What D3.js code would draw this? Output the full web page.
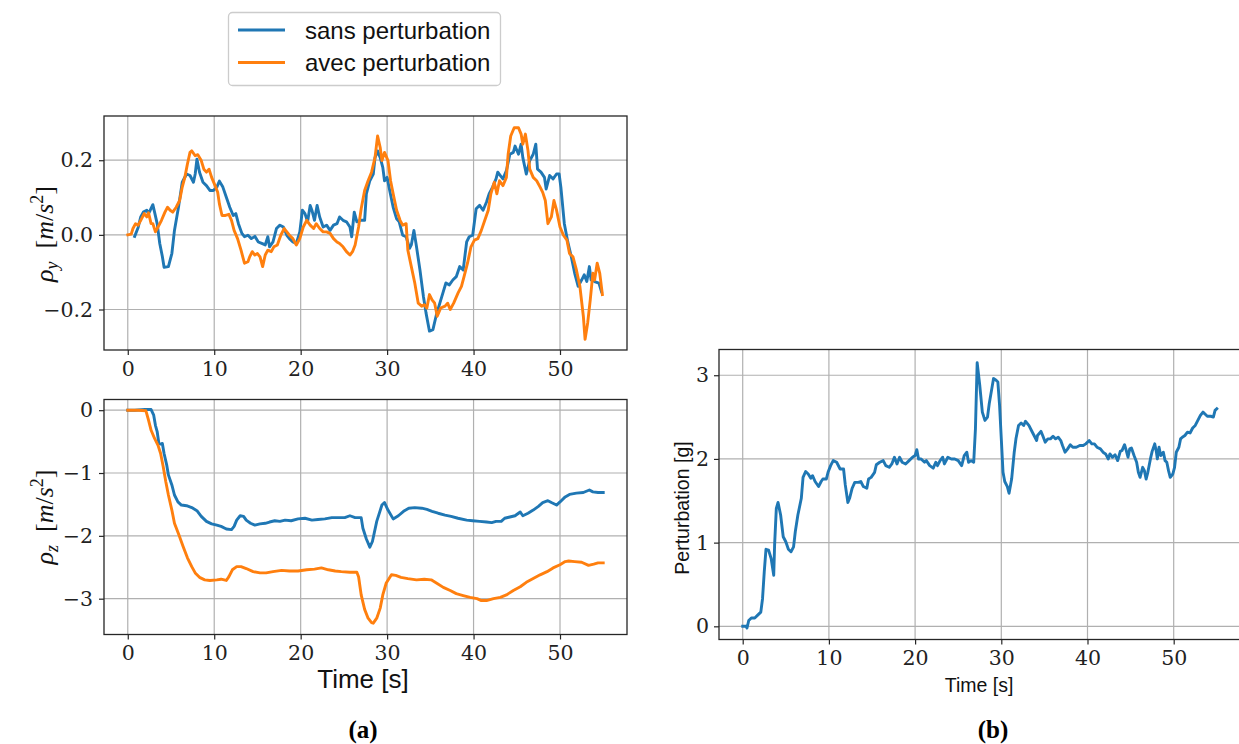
<!DOCTYPE html>
<html>
<head>
<meta charset="utf-8">
<script src="https://cdn.jsdelivr.net/npm/d3@7"></script>
<style>
  html, body { margin: 0; padding: 0; background: #fff; }
  svg { display: block; }
</style>
</head>
<body>
<svg id="chart" width="1239" height="744"></svg>
<script>
// ---------------- DATA ----------------
const seriesNames = ["sans perturbation", "avec perturbation"];
const seriesColors = ["#1f77b4", "#ff7f0e"];

const xTicks = [0, 10, 20, 30, 40, 50];
const rhoYTicks = [-0.2, 0.0, 0.2];
const rhoZTicks = [-3, -2, -1, 0];
const pertTicks = [0, 1, 2, 3];

// rho_y, sans perturbation  [t (s), value]
const rhoY_sans = [[0.8,-0.004],[1.2,0.02],[1.5,0.048],[1.8,0.061],[2.2,0.066],[2.4,0.057],[2.6,0.066],[2.9,0.081],[3.1,0.061],[3.4,0.03],[3.7,-0.023],[4.0,-0.058],[4.2,-0.087],[4.7,-0.085],[5.1,-0.05],[5.4,0.012],[5.9,0.079],[6.3,0.141],[6.8,0.163],[7.2,0.159],[7.6,0.141],[7.8,0.163],[8.0,0.203],[8.3,0.168],[8.7,0.141],[9.1,0.132],[9.5,0.119],[9.9,0.119],[10.3,0.128],[10.6,0.144],[11.0,0.128],[11.4,0.101],[11.8,0.074],[12.2,0.052],[12.5,0.057],[12.8,0.03],[13.2,0.004],[13.5,-0.005],[13.9,-0.001],[14.3,-0.01],[14.7,-0.004],[15.1,-0.019],[15.5,-0.023],[15.9,-0.027],[16.2,-0.005],[16.4,-0.032],[16.8,-0.019],[17.2,0.017],[17.6,0.026],[18.0,0.021],[18.4,-0.001],[18.7,-0.01],[19.1,-0.019],[19.5,-0.023],[19.9,0.008],[20.2,0.066],[20.5,0.057],[20.8,0.035],[21.1,0.079],[21.3,0.066],[21.6,0.039],[21.9,0.079],[22.2,0.048],[22.6,0.021],[23.0,0.026],[23.4,0.012],[23.8,0.026],[24.2,0.03],[24.5,0.048],[24.9,0.039],[25.3,0.035],[25.7,0.021],[25.9,-0.005],[26.2,0.061],[26.5,0.035],[26.9,0.039],[27.4,0.039],[27.6,0.11],[28.0,0.145],[28.4,0.163],[28.6,0.207],[28.9,0.225],[29.2,0.207],[29.5,0.181],[29.7,0.145],[30.0,0.154],[30.3,0.119],[30.7,0.074],[31.1,0.043],[31.4,0.035],[31.8,-0.001],[32.2,-0.005],[32.6,-0.036],[32.8,-0.027],[33.1,0.012],[33.4,-0.032],[33.8,-0.094],[34.2,-0.165],[34.5,-0.209],[34.9,-0.258],[35.3,-0.254],[35.7,-0.214],[36.1,-0.183],[36.5,-0.152],[36.8,-0.129],[37.2,-0.134],[37.6,-0.121],[38.0,-0.112],[38.4,-0.085],[38.8,-0.094],[39.2,-0.019],[39.5,-0.005],[39.9,-0.001],[40.3,0.07],[40.7,0.079],[41.1,0.066],[41.5,0.088],[41.8,0.11],[42.2,0.128],[42.6,0.15],[42.8,0.168],[43.1,0.159],[43.4,0.15],[43.8,0.172],[44.2,0.216],[44.6,0.221],[44.8,0.238],[45.2,0.216],[45.5,0.243],[45.7,0.207],[46.1,0.163],[46.5,0.199],[46.9,0.216],[47.2,0.243],[47.4,0.176],[47.8,0.168],[48.2,0.154],[48.4,0.123],[48.8,0.159],[49.2,0.15],[49.6,0.163],[49.9,0.163],[50.1,0.128],[50.5,0.03],[50.9,-0.019],[51.3,-0.058],[51.7,-0.103],[52.1,-0.138],[52.5,-0.121],[52.8,-0.107],[53.1,-0.125],[53.4,-0.085],[53.6,-0.121],[54.0,-0.125],[54.5,-0.129],[54.8,-0.152]];

// rho_y, avec perturbation
const rhoY_avec = [[0,0],[0.4,0.002],[0.6,0.017],[0.9,0.03],[1.2,0.026],[1.5,0.039],[1.9,0.057],[2.2,0.048],[2.4,0.059],[2.7,0.03],[2.9,0.03],[3.2,0.008],[3.5,0.021],[3.9,0.039],[4.3,0.061],[4.6,0.074],[4.9,0.066],[5.2,0.061],[5.6,0.074],[6.0,0.092],[6.3,0.128],[6.6,0.154],[6.9,0.19],[7.2,0.221],[7.4,0.225],[7.8,0.212],[8.1,0.215],[8.5,0.199],[8.8,0.176],[9.1,0.168],[9.4,0.176],[9.7,0.154],[10.1,0.132],[10.4,0.114],[10.6,0.083],[10.9,0.052],[11.3,0.052],[11.7,0.055],[12.0,0.039],[12.3,0.012],[12.7,-0.01],[13.1,-0.041],[13.5,-0.076],[13.9,-0.072],[14.1,-0.059],[14.4,-0.045],[14.7,-0.054],[15.0,-0.05],[15.3,-0.059],[15.6,-0.085],[15.9,-0.054],[16.2,-0.041],[16.6,-0.045],[16.9,-0.032],[17.3,-0.027],[17.7,-0.001],[18.1,0.017],[18.4,0.008],[18.7,-0.001],[19.1,-0.01],[19.5,-0.027],[19.9,-0.01],[20.3,0.021],[20.7,0.039],[21.1,0.026],[21.5,0.017],[21.8,0.03],[22.2,0.017],[22.6,0.008],[23.0,0.008],[23.4,0.004],[23.8,-0.01],[24.2,-0.019],[24.5,-0.023],[24.9,-0.032],[25.3,-0.045],[25.7,-0.054],[26.0,-0.045],[26.3,-0.027],[26.7,0.021],[27.0,0.07],[27.4,0.119],[27.8,0.145],[28.2,0.168],[28.6,0.207],[28.9,0.265],[29.2,0.234],[29.4,0.199],[29.7,0.221],[30.1,0.199],[30.4,0.145],[30.7,0.11],[31.1,0.066],[31.5,0.039],[31.8,0.026],[32.2,0.03],[32.4,-0.041],[32.8,-0.085],[33.2,-0.129],[33.6,-0.183],[34.0,-0.191],[34.3,-0.187],[34.6,-0.196],[34.9,-0.16],[35.2,-0.174],[35.5,-0.183],[35.8,-0.218],[36.2,-0.196],[36.7,-0.191],[37.0,-0.183],[37.3,-0.2],[37.7,-0.183],[38.2,-0.156],[38.6,-0.138],[38.9,-0.112],[39.3,-0.076],[39.7,-0.032],[40.1,-0.014],[40.5,-0.01],[40.9,0.012],[41.3,0.039],[41.7,0.066],[42.0,0.11],[42.4,0.141],[42.7,0.11],[43.0,0.145],[43.4,0.132],[43.8,0.154],[44.0,0.216],[44.3,0.265],[44.7,0.287],[45.2,0.287],[45.5,0.27],[45.7,0.243],[46.0,0.27],[46.3,0.225],[46.5,0.176],[46.9,0.154],[47.3,0.145],[47.7,0.128],[48.0,0.114],[48.3,0.092],[48.6,0.03],[49.0,0.048],[49.3,0.092],[49.6,0.066],[50.0,0.021],[50.4,-0.001],[50.8,-0.014],[51.1,-0.05],[51.5,-0.059],[51.9,-0.094],[52.3,-0.138],[52.7,-0.218],[52.9,-0.28],[53.2,-0.236],[53.5,-0.174],[53.8,-0.103],[54.0,-0.121],[54.3,-0.076],[54.6,-0.103],[54.9,-0.16]];

// rho_z, sans perturbation
const rhoZ_sans = [[0,0],[0.8,0],[2.0,0.01],[2.7,0.01],[3.0,-0.08],[3.2,-0.24],[3.4,-0.34],[3.6,-0.53],[3.8,-0.54],[4.0,-0.53],[4.2,-0.69],[4.5,-0.87],[4.7,-1.03],[5.1,-1.19],[5.4,-1.35],[5.8,-1.46],[6.2,-1.51],[6.8,-1.52],[7.4,-1.55],[8.0,-1.6],[8.5,-1.69],[9.1,-1.77],[9.7,-1.81],[10.3,-1.83],[10.8,-1.85],[11.4,-1.89],[12.0,-1.9],[12.3,-1.85],[12.6,-1.75],[13.0,-1.68],[13.4,-1.69],[13.7,-1.75],[14.2,-1.8],[14.7,-1.83],[15.3,-1.81],[15.9,-1.8],[16.4,-1.78],[17.0,-1.76],[17.6,-1.77],[18.2,-1.75],[18.9,-1.76],[19.7,-1.73],[20.5,-1.72],[21.3,-1.75],[22.0,-1.74],[22.8,-1.73],[23.6,-1.71],[24.3,-1.71],[25.1,-1.71],[25.7,-1.68],[26.3,-1.71],[27.0,-1.71],[27.2,-1.88],[27.6,-2.05],[28.0,-2.18],[28.3,-2.09],[28.8,-1.77],[29.4,-1.51],[29.7,-1.47],[30.1,-1.59],[30.7,-1.73],[31.3,-1.68],[31.9,-1.61],[32.5,-1.56],[33.2,-1.55],[34.0,-1.56],[34.6,-1.58],[35.2,-1.61],[35.9,-1.64],[36.7,-1.67],[37.4,-1.69],[38.2,-1.72],[39.2,-1.75],[39.9,-1.76],[40.7,-1.77],[41.5,-1.78],[42.1,-1.79],[42.6,-1.77],[43.2,-1.77],[43.6,-1.72],[44.2,-1.7],[44.8,-1.68],[45.4,-1.62],[45.7,-1.68],[46.3,-1.64],[46.9,-1.59],[47.5,-1.53],[48.0,-1.47],[48.6,-1.44],[49.0,-1.47],[49.6,-1.51],[50.0,-1.46],[50.6,-1.38],[51.1,-1.34],[51.9,-1.32],[52.7,-1.31],[53.4,-1.27],[53.8,-1.3],[54.4,-1.31],[55.0,-1.31]];

// rho_z, avec perturbation
const rhoZ_avec = [[0,0],[1.2,0],[2.1,-0.01],[2.4,-0.16],[2.7,-0.32],[3.1,-0.45],[3.5,-0.56],[3.8,-0.69],[4.1,-0.9],[4.4,-1.14],[4.7,-1.35],[5.1,-1.59],[5.4,-1.8],[5.9,-1.98],[6.4,-2.17],[6.9,-2.35],[7.4,-2.49],[7.8,-2.59],[8.3,-2.66],[8.9,-2.7],[9.5,-2.71],[10.3,-2.7],[10.8,-2.69],[11.4,-2.71],[11.7,-2.65],[12.1,-2.54],[12.6,-2.49],[13.1,-2.49],[13.7,-2.52],[14.5,-2.57],[15.3,-2.59],[16.0,-2.59],[16.8,-2.57],[17.8,-2.55],[18.7,-2.56],[19.7,-2.56],[20.7,-2.54],[21.6,-2.53],[22.4,-2.51],[23.2,-2.54],[24.0,-2.56],[24.7,-2.57],[25.7,-2.58],[26.5,-2.58],[26.7,-2.65],[27.0,-2.94],[27.4,-3.17],[27.8,-3.31],[28.2,-3.38],[28.4,-3.39],[28.8,-3.31],[29.2,-3.15],[29.5,-2.94],[29.9,-2.75],[30.5,-2.62],[31.0,-2.63],[31.6,-2.66],[32.4,-2.68],[33.4,-2.7],[34.3,-2.69],[35.1,-2.7],[35.7,-2.75],[36.5,-2.82],[37.3,-2.87],[38.0,-2.92],[38.8,-2.95],[39.6,-2.98],[40.4,-3.0],[40.9,-3.03],[41.5,-3.03],[42.3,-3.0],[43.1,-2.98],[43.8,-2.94],[44.6,-2.87],[45.4,-2.81],[46.1,-2.74],[46.9,-2.68],[47.7,-2.62],[48.5,-2.57],[49.2,-2.51],[50.0,-2.46],[50.6,-2.41],[51.0,-2.4],[51.7,-2.41],[52.5,-2.42],[53.3,-2.47],[53.9,-2.45],[54.4,-2.43],[55.0,-2.43]];

// Perturbation [g]
const perturbation = [[0,0],[0.4,0],[0.5,-0.02],[0.7,0.07],[1.0,0.1],[1.4,0.1],[1.8,0.14],[2.1,0.17],[2.3,0.33],[2.5,0.65],[2.7,0.92],[3.0,0.91],[3.3,0.81],[3.6,0.61],[3.7,0.97],[3.9,1.41],[4.1,1.48],[4.4,1.33],[4.7,1.07],[5.0,1.01],[5.3,0.92],[5.6,0.89],[5.9,0.95],[6.1,1.13],[6.4,1.33],[6.8,1.53],[7.0,1.78],[7.3,1.85],[7.6,1.82],[7.9,1.77],[8.1,1.8],[8.4,1.73],[8.8,1.67],[9.1,1.73],[9.3,1.76],[9.7,1.76],[9.9,1.84],[10.2,1.92],[10.5,1.98],[10.9,1.96],[11.3,1.88],[11.7,1.88],[11.9,1.69],[12.2,1.48],[12.4,1.53],[12.7,1.65],[13.0,1.72],[13.4,1.72],[13.7,1.73],[14.0,1.67],[14.4,1.65],[14.6,1.76],[14.9,1.78],[15.3,1.84],[15.5,1.93],[15.9,1.96],[16.3,1.98],[16.6,1.92],[17.0,1.9],[17.3,1.94],[17.6,2.02],[17.9,1.94],[18.2,2.02],[18.5,1.96],[18.9,1.94],[19.3,1.98],[19.7,2.02],[20.0,2.04],[20.2,2.11],[20.4,2.0],[20.7,2.0],[21.1,1.96],[21.3,1.98],[21.7,1.92],[22.1,1.89],[22.4,1.96],[22.6,1.92],[22.9,1.98],[23.2,2.02],[23.4,1.94],[23.8,2.02],[24.2,2.0],[24.6,2.0],[25.0,1.98],[25.4,1.92],[25.7,2.04],[26.0,2.08],[26.2,1.96],[26.5,1.98],[26.8,1.96],[27.0,2.36],[27.2,3.15],[27.5,2.88],[27.8,2.56],[28.1,2.46],[28.4,2.5],[28.6,2.66],[28.9,2.84],[29.1,2.96],[29.4,2.94],[29.6,2.92],[29.8,2.64],[30.0,2.24],[30.2,1.84],[30.4,1.73],[30.7,1.67],[30.9,1.59],[31.2,1.76],[31.5,2.08],[31.7,2.24],[32.0,2.4],[32.3,2.43],[32.6,2.4],[32.8,2.45],[33.2,2.4],[33.5,2.34],[33.8,2.28],[34.1,2.22],[34.2,2.28],[34.6,2.33],[34.8,2.28],[35.1,2.2],[35.4,2.24],[35.7,2.24],[36.0,2.27],[36.3,2.24],[36.6,2.26],[36.9,2.22],[37.1,2.16],[37.4,2.08],[37.7,2.12],[38.0,2.17],[38.3,2.14],[38.7,2.14],[39.1,2.16],[39.5,2.16],[39.8,2.18],[40.2,2.22],[40.5,2.18],[40.8,2.18],[41.1,2.14],[41.5,2.12],[41.8,2.08],[42.1,2.06],[42.4,2.0],[42.6,2.06],[42.9,2.02],[43.2,2.05],[43.5,1.98],[43.8,2.09],[44.0,2.1],[44.3,2.17],[44.5,2.1],[44.7,2.02],[44.9,2.12],[45.1,2.13],[45.4,2.04],[45.7,1.96],[45.9,1.84],[46.1,1.78],[46.4,1.9],[46.6,1.86],[46.8,1.76],[47.0,1.84],[47.3,2.0],[47.5,2.09],[47.8,2.18],[48.0,2.08],[48.1,2.0],[48.3,2.14],[48.5,2.04],[48.8,2.08],[49.0,1.98],[49.2,1.96],[49.4,1.86],[49.6,1.78],[49.9,1.82],[50.1,1.9],[50.3,2.08],[50.6,2.14],[50.8,2.24],[51.0,2.26],[51.3,2.28],[51.6,2.32],[51.9,2.31],[52.2,2.37],[52.5,2.4],[52.8,2.46],[53.1,2.52],[53.4,2.56],[53.6,2.54],[53.9,2.51],[54.3,2.51],[54.6,2.5],[54.8,2.58],[55.0,2.6]];

// ---------------- DRAW ----------------
const svg = d3.select("#chart");
const SERIF = "'Liberation Serif', 'Times New Roman', serif";
const TICKFONT = "'DejaVu Serif', serif";
const SANS = "'Liberation Sans', Arial, sans-serif";
const GRID = "#b0b0b0";
const SPINE = "#262626";
const LW = 2.9;

function panel(opts) {
  const x = d3.scaleLinear().domain(opts.xDomain).range([opts.left, opts.right]);
  const y = d3.scaleLinear().domain(opts.yDomain).range([opts.bottom, opts.top]);
  const g = svg.append("g");

  // grid
  g.append("g").selectAll("line").data(xTicks).join("line")
    .attr("x1", d => x(d)).attr("x2", d => x(d))
    .attr("y1", opts.top).attr("y2", opts.bottom)
    .attr("stroke", GRID).attr("stroke-width", 1.2);
  g.append("g").selectAll("line").data(opts.yTicks).join("line")
    .attr("x1", opts.left).attr("x2", opts.right)
    .attr("y1", d => y(d)).attr("y2", d => y(d))
    .attr("stroke", GRID).attr("stroke-width", 1.2);

  // lines
  const line = d3.line().x(d => x(d[0])).y(d => y(d[1]));
  opts.series.forEach((s, i) => {
    g.append("path").datum(s.data)
      .attr("fill", "none")
      .attr("stroke", s.color)
      .attr("stroke-width", LW)
      .attr("stroke-linejoin", "round")
      .attr("stroke-linecap", "square")
      .attr("d", line);
  });

  // axes (ticks + labels)
  const xAxis = d3.axisBottom(x).tickValues(xTicks).tickSize(5).tickPadding(opts.xPad)
    .tickFormat(d => d3.format("d")(d));
  const gx = g.append("g").attr("transform", `translate(0,${opts.bottom})`).call(xAxis);
  const yAxis = d3.axisLeft(y).tickValues(opts.yTicks).tickSize(5).tickPadding(opts.yPad)
    .tickFormat(opts.yFormat);
  const gy = g.append("g").attr("transform", `translate(${opts.left},0)`).call(yAxis);
  [gx, gy].forEach(a => {
    a.select(".domain").remove();
    a.selectAll(".tick line").attr("stroke", SPINE).attr("stroke-width", 1.2);
    a.selectAll(".tick text")
      .attr("fill", "#222")
      .style("font-family", TICKFONT)
      .style("font-weight", "300")
      .style("font-size", "20.5px");
  });

  // frame
  g.append("rect")
    .attr("x", opts.left).attr("y", opts.top)
    .attr("width", opts.right - opts.left).attr("height", opts.bottom - opts.top)
    .attr("fill", "none").attr("stroke", SPINE).attr("stroke-width", 1.3);
  return { x, y, g };
}

const minusFmt = f => (d => f(d).replace("-", "\u2212"));
const xDom = [-2.75, 57.75];

panel({
  left: 104, right: 627, top: 116, bottom: 350,
  xDomain: xDom, yDomain: [-0.3085, 0.3185], yTicks: rhoYTicks,
  yFormat: minusFmt(d3.format(".1f")), xPad: 6, yPad: 6,
  series: [
    { data: rhoY_sans, color: seriesColors[0] },
    { data: rhoY_avec, color: seriesColors[1] }
  ]
});

panel({
  left: 104, right: 627, top: 399.5, bottom: 634.5,
  xDomain: xDom, yDomain: [-3.57, 0.17], yTicks: rhoZTicks,
  yFormat: minusFmt(d3.format("d")), xPad: 6, yPad: 6,
  series: [
    { data: rhoZ_sans, color: seriesColors[0] },
    { data: rhoZ_avec, color: seriesColors[1] }
  ]
});

panel({
  left: 719, right: 1240.5, top: 349.5, bottom: 639.5,
  xDomain: xDom, yDomain: [-0.1575, 3.3075], yTicks: pertTicks,
  yFormat: d3.format("d"), xPad: 6, yPad: 5,
  series: [
    { data: perturbation, color: seriesColors[0] }
  ]
});

// y labels (math style)
function mathLabel(cx, cy, sub) {
  const t = svg.append("text")
    .attr("transform", `translate(${cx},${cy}) rotate(-90)`)
    .attr("text-anchor", "middle")
    .style("font-family", SERIF)
    .style("font-size", "26px")
    .attr("fill", "#111");
  t.append("tspan").style("font-style", "italic").text("\u03C1");
  t.append("tspan").style("font-style", "italic").style("font-size", "18px").attr("dy", 5).text(sub);
  t.append("tspan").attr("dy", -5).text("\u2002[");
  t.append("tspan").style("font-style", "italic").text("m");
  t.append("tspan").text("/");
  t.append("tspan").style("font-style", "italic").text("s");
  t.append("tspan").style("font-size", "18px").attr("dy", -10).text("2");
  t.append("tspan").attr("dy", 10).text("]");
}
mathLabel(53, 234, "y");
mathLabel(53, 517, "z");

// x labels
svg.append("text").attr("x", 363).attr("y", 688).attr("text-anchor", "middle")
  .style("font-family", SANS).style("font-size", "26px").attr("fill", "#111").text("Time [s]");
svg.append("text").attr("x", 979).attr("y", 692).attr("text-anchor", "middle")
  .style("font-family", SANS).style("font-size", "19.5px").attr("fill", "#111").text("Time [s]");
svg.append("text")
  .attr("transform", "translate(689,508) rotate(-90)")
  .attr("text-anchor", "middle")
  .style("font-family", SANS).style("font-size", "19.5px").attr("fill", "#111").text("Perturbation [g]");

// captions
svg.append("text").attr("x", 363).attr("y", 738).attr("text-anchor", "middle")
  .style("font-family", SERIF).style("font-size", "25px").style("font-weight", "bold").attr("fill", "#000").text("(a)");
svg.append("text").attr("x", 993).attr("y", 738).attr("text-anchor", "middle")
  .style("font-family", SERIF).style("font-size", "25px").style("font-weight", "bold").attr("fill", "#000").text("(b)");

// legend
const lg = svg.append("g");
lg.append("rect").attr("x", 228.5).attr("y", 12.5).attr("width", 272).attr("height", 73)
  .attr("rx", 4).attr("fill", "#fff").attr("stroke", "#cccccc").attr("stroke-width", 1.3);
seriesNames.forEach((name, i) => {
  const yy = 30 + i * 32.5;
  lg.append("line").attr("x1", 238).attr("x2", 285).attr("y1", yy).attr("y2", yy)
    .attr("stroke", seriesColors[i]).attr("stroke-width", LW);
  lg.append("text").attr("x", 305).attr("y", yy + 8.5)
    .style("font-family", SANS).style("font-size", "24px").attr("fill", "#111").text(name);
});
</script>
</body>
</html>
